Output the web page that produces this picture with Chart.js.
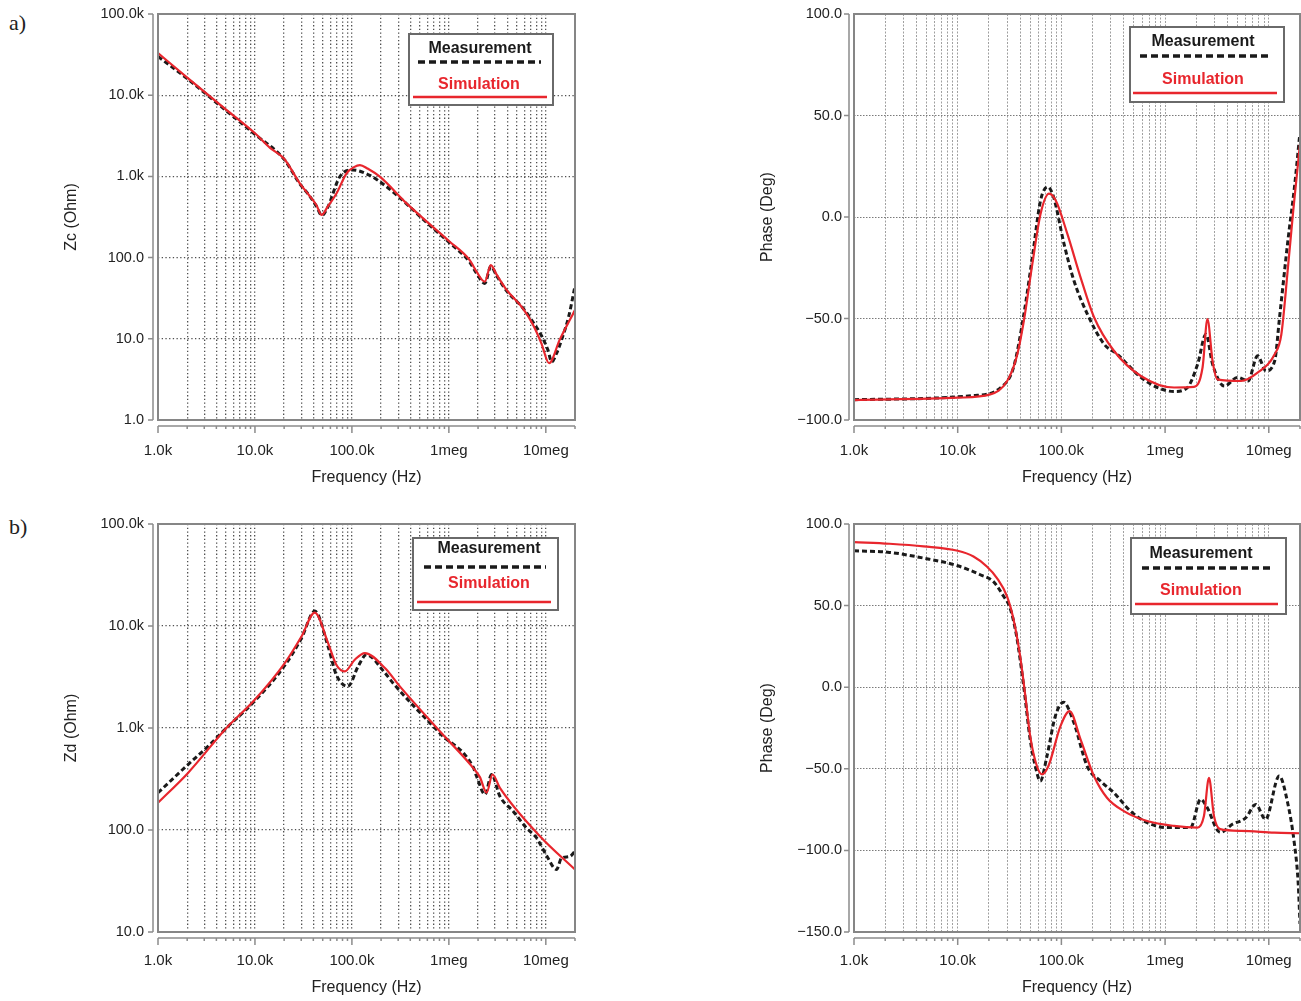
<!DOCTYPE html>
<html>
<head>
<meta charset="utf-8">
<script src="https://cdn.jsdelivr.net/npm/chart.js@4.4.1/dist/chart.umd.min.js"></script>
<style>
body { margin: 0; background: #fff; }
#page { position: relative; width: 1301px; height: 1001px; overflow: hidden; background: #fff; }
.box { position: absolute; }
.tag { position: absolute; font-family: "Liberation Serif", "Times New Roman", serif; font-size: 22px; color: #222; }
</style>
</head>
<body>
<div id="page">
  <div class="tag" style="left:9px;top:10px">a)</div>
  <div class="tag" style="left:9px;top:514px">b)</div>
  <div class="box" style="left:50px;top:0;width:540px;height:500px"><canvas id="c1"></canvas></div>
  <div class="box" style="left:740px;top:0;width:561px;height:500px"><canvas id="c2"></canvas></div>
  <div class="box" style="left:50px;top:510px;width:540px;height:490px"><canvas id="c3"></canvas></div>
  <div class="box" style="left:740px;top:510px;width:561px;height:490px"><canvas id="c4"></canvas></div>
</div>
<script>
// axis ticks
var xMinF = 1e3, xMaxF = 2e7
var xTickVals = [1e3, 1e4, 1e5, 1e6, 1e7]
var xTickText = ['1.0k', '10.0k', '100.0k', '1meg', '10meg']

var zcTickVals = [1, 10, 100, 1e3, 1e4, 1e5]
var zcTickText = ['1.0', '10.0', '100.0', '1.0k', '10.0k', '100.0k']
var zdTickVals = [10, 100, 1e3, 1e4, 1e5]
var zdTickText = ['10.0', '100.0', '1.0k', '10.0k', '100.0k']
var phcTickVals = [-100, -50, 0, 50, 100]
var phcTickText = ['\u2212100.0', '\u221250.0', '0.0', '50.0', '100.0']
var phdTickVals = [-150, -100, -50, 0, 50, 100]
var phdTickText = ['\u2212150.0', '\u2212100.0', '\u221250.0', '0.0', '50.0', '100.0']

// a) Zc magnitude
var zcSimF = [1e3, 2e3, 5e3, 1e4, 1.43e4, 2e4, 2.9e4, 3.6e4, 4.3e4, 4.87e4, 5.6e4, 6.95e4, 8.8e4, 1.05e5, 1.21e5, 1.45e5, 1.94e5, 3.66e5, 6e5, 1e6, 1.64e6, 1.93e6, 2.35e6, 2.71e6, 3.1e6, 3.94e6, 5.8e6, 7.4e6, 9e6, 1.08e7, 1.39e7, 2e7]
var zcSim = [33000, 16500, 6700, 3400, 2250, 1650, 822, 590, 445, 335, 420, 619, 1092, 1300, 1380, 1250, 991, 466, 274, 160, 93, 67, 50.5, 81, 62, 40, 23.7, 14.8, 8.8, 5.0, 9.7, 22.6]
var zcMeasF = [1e3, 2e3, 5e3, 1e4, 2e4, 2.9e4, 3.6e4, 4.3e4, 4.9e4, 5.6e4, 7.5e4, 1.02e5, 1.53e5, 1.94e5, 2.9e5, 3.66e5, 6e5, 1e6, 1.64e6, 1.93e6, 2.35e6, 2.71e6, 3.1e6, 3.94e6, 5.8e6, 7.4e6, 9e6, 1.05e7, 1.15e7, 1.29e7, 1.49e7, 1.72e7, 1.93e7, 2e7]
var zcMeas = [30000, 16000, 6500, 3300, 1620, 810, 590, 430, 330, 410, 991, 1200, 1030, 860, 590, 460, 265, 155, 88, 64, 48, 78, 60, 39, 24, 16, 11, 7.3, 5.2, 6.6, 10.6, 18.7, 36, 45]

// a) Zc phase
var phcSimF = [1e3, 1e4, 2.06e4, 3e4, 3.7e4, 4.35e4, 5.25e4, 6.3e4, 7.6e4, 8.8e4, 1.14e5, 1.53e5, 2.07e5, 3.22e5, 5.84e5, 1.22e6, 1.9e6, 2.3e6, 2.56e6, 2.87e6, 3.2e6, 5.4e6, 7.8e6, 1.14e7, 1.32e7, 1.53e7, 1.72e7, 2e7]
var phcSim = [-90.2, -89, -87.4, -80.8, -69, -51, -23, 1.6, 11.5, 8.2, -8.2, -29.7, -49.5, -66, -78.3, -84, -83.7, -74, -50.3, -71, -80, -80.8, -76.7, -67.6, -58, -25, 3, 36]
var phcMeasF = [1e3, 1.4e4, 2.6e4, 3.46e4, 4.35e4, 5.25e4, 6.3e4, 7.4e4, 8.4e4, 1.06e5, 1.32e5, 1.78e5, 2.58e5, 3.46e5, 5.84e5, 8.45e5, 1.22e6, 1.64e6, 2.06e6, 2.48e6, 2.87e6, 3.73e6, 5e6, 6.3e6, 7.8e6, 9.4e6, 1.14e7, 1.27e7, 1.53e7, 1.77e7, 1.98e7]
var phcMeas = [-90, -88, -84, -74, -47.8, -19.8, 8.2, 14.8, 9.9, -13.2, -31.3, -47.8, -62.6, -67.6, -79, -84, -86, -84, -72.5, -57.7, -72.5, -83.3, -79, -80.8, -68.4, -75.8, -70.9, -49.5, -11.5, 14.8, 39.6]

// b) Zd magnitude
var zdSimF = [1e3, 2.04e3, 5.08e3, 1e4, 2.03e4, 3.02e4, 4.14e4, 5.68e4, 6.9e4, 8.45e4, 1.07e5, 1.36e5, 2.19e5, 3.12e5, 8.07e5, 1.78e6, 2.09e6, 2.45e6, 2.82e6, 3.36e6, 8.7e6, 2e7]
var zdSim = [185, 363, 1000, 1900, 4330, 7890, 13550, 6800, 4170, 3590, 4670, 5430, 3870, 2560, 929, 407, 330, 232, 350, 259, 87, 41]
var zdMeasF = [1e3, 2.04e3, 3.28e3, 5.08e3, 1e4, 2.03e4, 3.02e4, 4.14e4, 5.68e4, 6.9e4, 9.1e4, 1.16e5, 1.41e5, 2.19e5, 2.66e5, 8.07e5, 1.78e6, 1.93e6, 2.36e6, 2.76e6, 3.36e6, 4.6e6, 6.3e6, 8e6, 1.02e7, 1.29e7, 1.45e7, 1.77e7, 2e7]
var zdMeas = [232, 438, 660, 1000, 1850, 4100, 7600, 14000, 6300, 3330, 2560, 4020, 5220, 3470, 2750, 890, 415, 337, 223, 350, 214, 153, 105, 84, 56, 41, 53, 55, 62]

// b) Zd phase
var phdSimF = [1e3, 2.2e3, 4.7e3, 1e4, 1.42e4, 1.91e4, 2.39e4, 2.99e4, 3.46e4, 4e4, 4.49e4, 5e4, 5.8e4, 6.5e4, 7.5e4, 9.8e4, 1.2e5, 1.53e5, 2.06e5, 2.75e5, 4e5, 6.72e5, 1.22e6, 2.05e6, 2.37e6, 2.65e6, 2.96e6, 3.4e6, 5.4e6, 1.13e7, 2e7]
var phdSim = [88.9, 87.9, 86.3, 83.6, 80.1, 74, 66.9, 55.7, 41.4, 19, -5.5, -30, -48.3, -53.4, -48.3, -23.9, -14.7, -32, -54.4, -67.7, -75.9, -82, -85, -86, -78.9, -55.5, -78.9, -87, -88, -89.1, -89.5]
var phdMeasF = [1e3, 2.2e3, 4.7e3, 1e4, 1.65e4, 2.2e4, 2.77e4, 3.2e4, 3.7e4, 4.33e4, 5e4, 5.6e4, 6.26e4, 7.26e4, 8.74e4, 1.05e5, 1.32e5, 1.77e5, 2.38e5, 3.2e5, 4.64e5, 6.72e5, 1.05e6, 1.76e6, 2.2e6, 2.5e6, 3.4e6, 4.45e6, 6e6, 7.5e6, 9.3e6, 1.26e7, 1.52e7, 1.76e7, 1.92e7, 2e7]
var phdMeas = [83.6, 82.6, 79.1, 74.4, 68.9, 64.8, 55.7, 48.5, 31.2, 0.6, -32, -48.3, -57.5, -42.2, -17.7, -9.2, -21.8, -48.3, -57.5, -64.6, -75.9, -83, -86, -86, -68.7, -72.8, -89, -84, -80, -71.8, -81, -54.4, -70.8, -95.2, -119.7, -145]

// vertical grid at 1..9 per decade
var xGridVals = []
for (var d = xMinF; d <= xMaxF; d *= 10) {
  for (var m = 1; m <= 9; m++) {
    if (m * d <= xMaxF) xGridVals.push(m * d)
  }
}

function pts(fs, vs) {
  return fs.map(function (f, i) { return { x: f, y: vs[i] } })
}

var FONT = '"Liberation Sans", Arial, Helvetica, sans-serif'
var RED = '#e8262d'
var CLEAR = 'rgba(0,0,0,0)'

var decor = {
  id: 'decor',
  afterDraw: function (chart, args, o) {
    var ctx = chart.ctx, a = chart.chartArea
    var xs = chart.scales.x, ys = chart.scales.y
    ctx.save()
    // outer axis lines with ticks
    ctx.strokeStyle = '#8c8c8c'
    ctx.lineWidth = 1.5
    ctx.beginPath()
    ctx.moveTo(a.left - 5, a.top)
    ctx.lineTo(a.left - 5, a.bottom)
    o.yTicks.forEach(function (v) {
      var y = ys.getPixelForValue(v)
      ctx.moveTo(a.left - 5, y)
      ctx.lineTo(a.left - 10, y)
    })
    ctx.moveTo(a.left, a.bottom + 6)
    ctx.lineTo(a.right, a.bottom + 6)
    xGridVals.forEach(function (v) {
      var x = xs.getPixelForValue(v)
      var len = xTickVals.indexOf(v) >= 0 ? 7 : 3
      ctx.moveTo(x, a.bottom + 6)
      ctx.lineTo(x, a.bottom + 6 + len)
    })
    ctx.stroke()
    // plot frame
    ctx.strokeStyle = '#868686'
    ctx.lineWidth = 2
    ctx.strokeRect(a.left, a.top, a.right - a.left, a.bottom - a.top)
    // legend box (page coords shifted into canvas)
    var L = o.legend, ox = o.ox, oy = o.oy
    ctx.fillStyle = '#fff'
    ctx.fillRect(L.box[0] - ox, L.box[1] - oy, L.box[2] - L.box[0], L.box[3] - L.box[1])
    ctx.strokeStyle = '#6a6a6a'
    ctx.lineWidth = 2
    ctx.strokeRect(L.box[0] - ox, L.box[1] - oy, L.box[2] - L.box[0], L.box[3] - L.box[1])
    ctx.font = 'bold 16px ' + FONT
    ctx.textAlign = 'center'
    ctx.textBaseline = 'middle'
    ctx.fillStyle = '#1a1a1a'
    ctx.fillText('Measurement', L.mText[0] - ox, L.mText[1] - oy)
    ctx.fillStyle = RED
    ctx.fillText('Simulation', L.sText[0] - ox, L.sText[1] - oy)
    ctx.beginPath()
    ctx.setLineDash([7, 4])
    ctx.strokeStyle = '#1a1a1a'
    ctx.lineWidth = 3.5
    ctx.moveTo(L.mLine[0] - ox, L.mLine[2] - oy)
    ctx.lineTo(L.mLine[1] - ox, L.mLine[2] - oy)
    ctx.stroke()
    ctx.beginPath()
    ctx.setLineDash([])
    ctx.strokeStyle = RED
    ctx.lineWidth = 2.5
    ctx.moveTo(L.sLine[0] - ox, L.sLine[2] - oy)
    ctx.lineTo(L.sLine[1] - ox, L.sLine[2] - oy)
    ctx.stroke()
    ctx.restore()
  }
}

function makePanel(p) {
  new Chart(document.getElementById(p.id), {
    type: 'line',
    data: {
      datasets: [
        {
          label: 'Simulation',
          data: pts(p.simF, p.sim),
          borderColor: RED,
          borderWidth: 2.2,
          pointRadius: 0,
          cubicInterpolationMode: 'monotone'
        },
        {
          label: 'Measurement',
          data: pts(p.measF, p.meas),
          borderColor: '#1a1a1a',
          borderWidth: 3,
          borderDash: [5, 3],
          pointRadius: 0,
          cubicInterpolationMode: 'monotone'
        }
      ]
    },
    options: {
      responsive: true,
      maintainAspectRatio: false,
      animation: false,
      layout: { padding: { top: 14, right: p.padRight, left: 0, bottom: 0 } },
      plugins: {
        legend: { display: false },
        tooltip: { enabled: false },
        decor: { yTicks: p.yTicks, legend: p.legend, ox: p.ox, oy: p.oy }
      },
      scales: {
        x: {
          type: 'logarithmic',
          min: xMinF,
          max: xMaxF,
          afterBuildTicks: function (axis) {
            axis.ticks = xGridVals.map(function (v) { return { value: v } })
          },
          afterFit: function (s) { s.height = p.xHeight },
          // invisible tick marks give the label gap without padding the layout
          grid: { color: p.vGrid, lineWidth: p.vWidth, drawTicks: true, tickLength: p.xGap, tickColor: CLEAR },
          border: { display: false, dash: p.vDash },
          ticks: {
            autoSkip: false,
            maxRotation: 0,
            padding: 0,
            color: '#222',
            font: { family: FONT, size: 15 },
            callback: function (v) {
              var i = xTickVals.indexOf(v)
              return i >= 0 ? xTickText[i] : ''
            }
          },
          title: {
            display: true,
            text: 'Frequency (Hz)',
            color: '#222',
            font: { family: FONT, size: 16 },
            padding: { top: 0, bottom: p.xTitlePad }
          }
        },
        y: {
          type: p.yType,
          min: p.yTicks[0],
          max: p.yTicks[p.yTicks.length - 1],
          afterBuildTicks: function (axis) {
            axis.ticks = p.yTicks.map(function (v) { return { value: v } })
          },
          afterFit: function (s) { s.width = p.yWidth },
          grid: { color: p.hGrid, lineWidth: p.vWidth, drawTicks: true, tickLength: p.yGap, tickColor: CLEAR },
          border: { display: false, dash: p.hDash },
          ticks: {
            padding: 0,
            color: '#222',
            font: { family: FONT, size: 14.5 },
            callback: function (v) {
              var i = p.yTicks.indexOf(v)
              return i >= 0 ? p.yText[i] : ''
            }
          },
          title: {
            display: true,
            text: p.yTitle,
            color: '#222',
            font: { family: FONT, size: 16 },
            padding: { top: p.yTitlePad, bottom: 0 }
          }
        }
      }
    },
    plugins: [decor]
  })
}

makePanel({
  id: 'c1', ox: 50, oy: 0, padRight: 15, xHeight: 80, yWidth: 108,
  xGap: 22, yGap: 14, xTitlePad: 13, yTitlePad: 12,
  yType: 'logarithmic', yTicks: zcTickVals, yText: zcTickText, yTitle: 'Zc (Ohm)',
  vGrid: '#505050', vWidth: 1.3, vDash: [1.3, 2.4], hGrid: '#505050', hDash: [1.3, 2.4],
  simF: zcSimF, sim: zcSim, measF: zcMeasF, meas: zcMeas,
  legend: { box: [409, 34, 553, 105], mText: [480, 49], mLine: [418, 541, 62], sText: [479, 85], sLine: [413, 547, 97] }
})
makePanel({
  id: 'c2', ox: 740, oy: 0, padRight: 1, xHeight: 80, yWidth: 114,
  xGap: 22, yGap: 12, xTitlePad: 13, yTitlePad: 18,
  yType: 'linear', yTicks: phcTickVals, yText: phcTickText, yTitle: 'Phase (Deg)',
  vGrid: '#a0a0a0', vWidth: 1, vDash: [2, 1.5], hGrid: '#7a7a7a', hDash: [1.5, 1.5],
  simF: phcSimF, sim: phcSim, measF: phcMeasF, meas: phcMeas,
  legend: { box: [1130, 27, 1284, 102], mText: [1203, 42], mLine: [1140, 1272, 56], sText: [1203, 80], sLine: [1133, 1277, 93] }
})
makePanel({
  id: 'c3', ox: 50, oy: 510, padRight: 15, xHeight: 68, yWidth: 108,
  xGap: 20, yGap: 14, xTitlePad: 3, yTitlePad: 12,
  yType: 'logarithmic', yTicks: zdTickVals, yText: zdTickText, yTitle: 'Zd (Ohm)',
  vGrid: '#505050', vWidth: 1.3, vDash: [1.3, 2.4], hGrid: '#505050', hDash: [1.3, 2.4],
  simF: zdSimF, sim: zdSim, measF: zdMeasF, meas: zdMeas,
  legend: { box: [413, 538, 558, 610], mText: [489, 549], mLine: [424, 546, 567], sText: [489, 584], sLine: [417, 551, 602] }
})
makePanel({
  id: 'c4', ox: 740, oy: 510, padRight: 1, xHeight: 68, yWidth: 114,
  xGap: 20, yGap: 12, xTitlePad: 3, yTitlePad: 18,
  yType: 'linear', yTicks: phdTickVals, yText: phdTickText, yTitle: 'Phase (Deg)',
  vGrid: '#a0a0a0', vWidth: 1, vDash: [2, 1.5], hGrid: '#7a7a7a', hDash: [1.5, 1.5],
  simF: phdSimF, sim: phdSim, measF: phdMeasF, meas: phdMeas,
  legend: { box: [1131, 538, 1286, 614], mText: [1201, 554], mLine: [1142, 1273, 568], sText: [1201, 591], sLine: [1135, 1278, 604] }
})
</script>
</body>
</html>
